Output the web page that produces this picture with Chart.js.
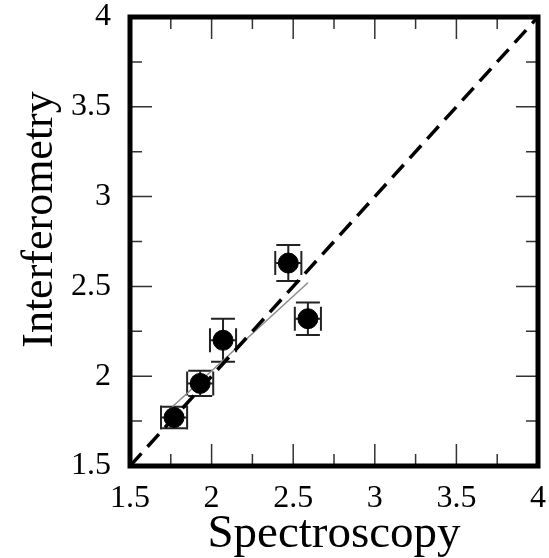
<!DOCTYPE html>
<html>
<head>
<meta charset="utf-8">
<script src="https://cdn.jsdelivr.net/npm/chart.js@4.4.1/dist/chart.umd.min.js"></script>
<style>
  html, body { margin: 0; padding: 0; background: #fff; }
  #wrap { width: 549px; height: 558px; }
</style>
</head>
<body>
<div id="wrap"><canvas id="cmp"></canvas></div>
<script>
  // ----- DATA -----
  const spectroscopy   = [1.77, 1.93, 2.07, 2.47, 2.59];
  const interferometry = [1.77, 1.96, 2.20, 2.63, 2.32];
  const specErr  = [0.08, 0.08, 0.08, 0.08, 0.08];
  const interErr = [0.06, 0.07, 0.12, 0.10, 0.09];
  const fitX = [1.76, 2.59];
  const fitY = [1.83, 2.52];
  const oneToOne = [1.5, 4];
  const tickValues = [1.5, 2, 2.5, 3, 3.5, 4];

  const serif = "'Liberation Serif', 'DejaVu Serif', serif";

  // error bars behind the markers
  const errorBars = {
    id: 'errorBars',
    beforeDatasetsDraw(chart) {
      const { ctx, scales: { x, y } } = chart;
      const cap = 12;
      ctx.save();
      ctx.strokeStyle = '#222';
      ctx.lineWidth = 2;
      spectroscopy.forEach((sx, i) => {
        const px = x.getPixelForValue(sx), py = y.getPixelForValue(interferometry[i]);
        const y0 = y.getPixelForValue(interferometry[i] - interErr[i]);
        const y1 = y.getPixelForValue(interferometry[i] + interErr[i]);
        const x0 = x.getPixelForValue(sx - specErr[i]);
        const x1 = x.getPixelForValue(sx + specErr[i]);
        ctx.beginPath();
        ctx.moveTo(px, y0); ctx.lineTo(px, y1);
        ctx.moveTo(px - cap, y0); ctx.lineTo(px + cap, y0);
        ctx.moveTo(px - cap, y1); ctx.lineTo(px + cap, y1);
        ctx.moveTo(x0, py); ctx.lineTo(x1, py);
        ctx.moveTo(x0, py - cap); ctx.lineTo(x0, py + cap);
        ctx.moveTo(x1, py - cap); ctx.lineTo(x1, py + cap);
        ctx.stroke();
      });
      ctx.restore();
    }
  };

  // inward ticks on all sides + heavy frame
  const frame = {
    id: 'frame',
    afterDraw(chart) {
      const { ctx, chartArea: a, scales: { x, y } } = chart;
      ctx.save();
      ctx.strokeStyle = '#333';
      ctx.lineWidth = 1.5;
      ctx.beginPath();
      for (let v = 1.5; v <= 4.0001; v += 0.25) {
        const len = (Math.abs(v * 2 - Math.round(v * 2)) < 1e-6) ? 22 : 12;
        const px = x.getPixelForValue(v), py = y.getPixelForValue(v);
        ctx.moveTo(px, a.bottom); ctx.lineTo(px, a.bottom - len);
        ctx.moveTo(px, a.top); ctx.lineTo(px, a.top + len);
        ctx.moveTo(a.left, py); ctx.lineTo(a.left + len, py);
        ctx.moveTo(a.right, py); ctx.lineTo(a.right - len, py);
      }
      ctx.stroke();
      ctx.strokeStyle = '#000';
      ctx.lineWidth = 5;
      ctx.strokeRect(a.left, a.top, a.right - a.left, a.bottom - a.top);
      ctx.restore();
    }
  };

  const fmt = v => String(+v.toFixed(2));

  new Chart(document.getElementById('cmp'), {
    type: 'scatter',
    data: {
      datasets: [
        {
          label: 'Data',
          data: spectroscopy.map((v, i) => ({ x: v, y: interferometry[i] })),
          backgroundColor: '#000',
          borderColor: '#000',
          pointRadius: 10,
          order: 0
        },
        {
          label: 'Fit',
          type: 'line',
          data: fitX.map((v, i) => ({ x: v, y: fitY[i] })),
          borderColor: '#8a8a8a',
          borderWidth: 1.5,
          pointRadius: 0,
          order: 2
        },
        {
          label: '1:1',
          type: 'line',
          data: oneToOne.map(v => ({ x: v, y: v })),
          borderColor: '#000',
          borderWidth: 3.5,
          borderDash: [17, 9],
          pointRadius: 0,
          order: 1
        }
      ]
    },
    options: {
      responsive: true,
      maintainAspectRatio: false,
      animation: false,
      layout: { padding: { top: 17, right: 7, left: 0, bottom: 0 } },
      plugins: { legend: { display: false }, tooltip: { enabled: false } },
      scales: {
        x: {
          type: 'linear',
          min: 1.5, max: 4,
          afterBuildTicks: s => { s.ticks = tickValues.map(v => ({ value: v })); },
          afterFit: s => { s.height = 92; s.paddingLeft = 0; s.paddingRight = 0; },
          grid: { display: false },
          border: { display: false },
          ticks: { color: '#000', padding: 5, maxRotation: 0, callback: fmt,
                   font: { family: serif, size: 32 } },
          title: { display: true, text: 'Spectroscopy', color: '#000', padding: 0,
                   font: { family: serif, size: 47, lineHeight: 1 } }
        },
        y: {
          type: 'linear',
          min: 1.5, max: 4,
          afterBuildTicks: s => { s.ticks = tickValues.map(v => ({ value: v })); },
          afterFit: s => { s.width = 130; s.paddingTop = 0; s.paddingBottom = 0; },
          grid: { display: false },
          border: { display: false },
          ticks: { color: '#000', padding: 11, callback: fmt,
                   font: { family: serif, size: 32 } },
          title: { display: true, text: '\u2003Interferometry', color: '#000', padding: { top: 18, bottom: 0 },
                   font: { family: serif, size: 44, lineHeight: 1 } }
        }
      }
    },
    plugins: [errorBars, frame]
  });
</script>
</body>
</html>
